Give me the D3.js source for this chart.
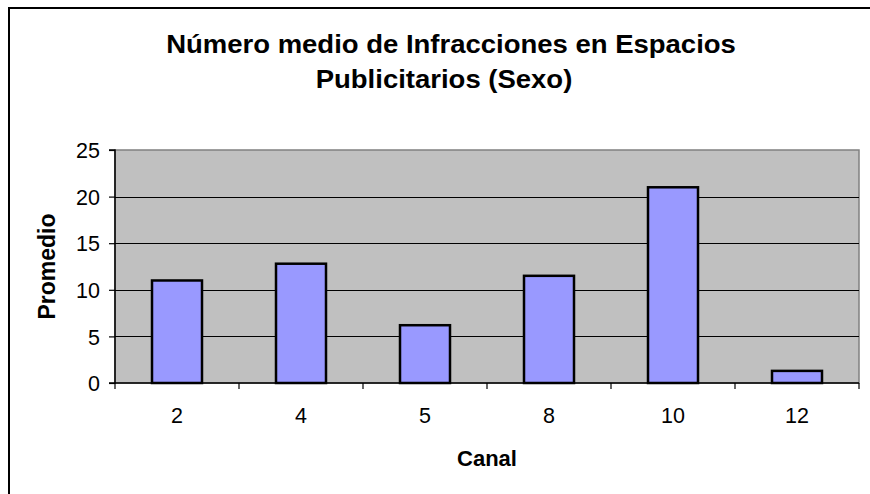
<!DOCTYPE html>
<html><head><meta charset="utf-8">
<script src="https://cdn.jsdelivr.net/npm/d3@7"></script>
<style>body{margin:0;background:#fff}svg{display:block}</style>
</head><body>
<script>
const categories = ["2","4","5","8","10","12"];
const values = [11.0, 12.8, 6.2, 11.5, 21.0, 1.3];
const yTicks = [0,5,10,15,20,25];
const titleLines = ["Número medio de Infracciones en Espacios","Publicitarios (Sexo)"];
const xTitle = "Canal";
const yTitle = "Promedio";

const W=870,H=494;
const svg=d3.select("body").append("svg").attr("width",W).attr("height",H);
const font="Liberation Sans, Arial, sans-serif";
svg.append("rect").attr("width",W).attr("height",H).attr("fill","#fff");
// outer border (cropped at right/bottom)
svg.append("rect").attr("x",9).attr("y",8).attr("width",W+20).attr("height",H+20)
  .attr("fill","none").attr("stroke","#000").attr("stroke-width",2);

const m={l:115,r:859,t:150,b:383};
const x=d3.scaleBand().domain(categories).range([m.l,m.r]).paddingInner(0).paddingOuter(0);
const y=d3.scaleLinear().domain([0,25]).range([m.b,m.t]);

svg.append("rect").attr("x",m.l).attr("y",m.t).attr("width",m.r-m.l).attr("height",m.b-m.t)
  .attr("fill","#c0c0c0").attr("stroke","#808080").attr("stroke-width",1.5);

// gridlines
svg.append("g").selectAll("line").data(yTicks.filter(d=>d>0&&d<25)).join("line")
  .attr("x1",m.l).attr("x2",m.r).attr("y1",d=>Math.round(y(d))+0.5).attr("y2",d=>Math.round(y(d))+0.5)
  .attr("stroke","#000").attr("stroke-width",1.2);

// bars
const bw=50;
svg.append("g").selectAll("rect").data(values).join("rect")
  .attr("x",(d,i)=>x(categories[i])+x.bandwidth()/2-bw/2)
  .attr("y",d=>y(d)).attr("width",bw).attr("height",d=>y(0)-y(d))
  .attr("fill","#9999ff").attr("stroke","#000").attr("stroke-width",2.5);

// y axis
const ya=svg.append("g").attr("transform",`translate(${m.l},0)`)
  .call(d3.axisLeft(y).tickValues(yTicks).tickSize(6).tickPadding(9));
ya.select(".domain").attr("stroke","#000").attr("stroke-width",1.5).attr("d",`M-6,${m.t}H0V${m.b}H-6`);
ya.selectAll(".tick line").attr("stroke","#000").attr("stroke-width",1.2);
ya.selectAll("text").attr("font-family",font).attr("font-size",21.5).attr("fill","#000").attr("dy","0.36em");

// x axis
const xb=d3.scaleLinear().domain([0,categories.length]).range([m.l,m.r]);
const xa=svg.append("g").attr("transform",`translate(0,${m.b})`);
xa.append("line").attr("x1",m.l).attr("x2",m.r).attr("stroke","#000").attr("stroke-width",1.5);
xa.selectAll("line.t").data(d3.range(categories.length+1)).join("line").attr("class","t")
  .attr("x1",d=>xb(d)).attr("x2",d=>xb(d)).attr("y1",0).attr("y2",6).attr("stroke","#000").attr("stroke-width",1.2);
xa.selectAll("text").data(categories).join("text")
  .attr("x",d=>x(d)+x.bandwidth()/2).attr("y",40).attr("text-anchor","middle")
  .attr("font-family",font).attr("font-size",21.5).text(d=>d);

// titles
const tcx=[451,444];
svg.append("g").selectAll("text").data(titleLines).join("text")
  .attr("transform",(d,i)=>`translate(${tcx[i]},${53+i*35}) scale(1.1,1)`).attr("text-anchor","middle")
  .attr("font-family",font).attr("font-size",25).attr("font-weight","bold").text(d=>d);
svg.append("text").attr("x",(m.l+m.r)/2).attr("y",466).attr("text-anchor","middle")
  .attr("font-family",font).attr("font-size",22).attr("font-weight","bold").text(xTitle);
svg.append("text").attr("transform",`translate(55,${(m.t+m.b)/2}) rotate(-90)`).attr("text-anchor","middle")
  .attr("font-family",font).attr("font-size",23).attr("font-weight","bold").text(yTitle);
</script>
</body></html>
